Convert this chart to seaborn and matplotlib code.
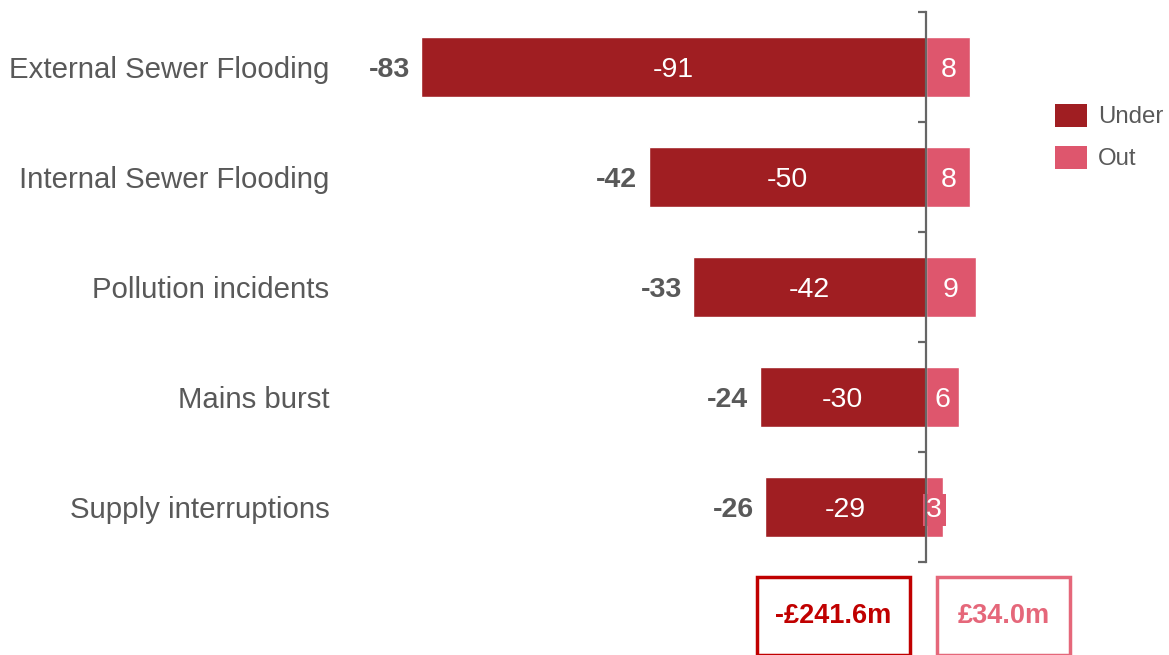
import matplotlib
matplotlib.use("Agg")
import matplotlib.pyplot as plt
import seaborn as sns
import pandas as pd
from matplotlib.patches import Patch, Rectangle

categories = ["External Sewer Flooding", "Internal Sewer Flooding", "Pollution incidents",
              "Mains burst", "Supply interruptions"]
under = [-91, -50, -42, -30, -29]
out = [8, 8, 9, 6, 3]
series_names = ["Under", "Out"]
total_labels = ["-£241.6m", "£34.0m"]

UNDER_C = "#A01E22"
OUT_C = "#DE566D"
GREY = "#595959"
AXIS_C = "#666666"

sns.set_theme(style="white")
plt.rcParams["font.family"] = ["Liberation Sans", "DejaVu Sans"]

df = pd.DataFrame({
    "category": categories * 2,
    "value": under + out,
    "series": [series_names[0]] * len(categories) + [series_names[1]] * len(categories),
})

W, H = 1169, 655
SCALE = 5.55
X0 = 926
fig = plt.figure(figsize=(W / 100, H / 100), dpi=100)
ax = fig.add_axes([360 / W, 1 - 562 / H, 680 / W, 550 / H])

sns.barplot(data=df, x="value", y="category", hue="series", order=categories,
            hue_order=series_names, palette=[UNDER_C, OUT_C], dodge=False,
            width=0.54, orient="h", ax=ax, legend=False, saturation=1)

ax.set_xlim(-(X0 - 360) / SCALE, (1040 - X0) / SCALE)
ax.set_ylim(len(categories) - 0.5, -0.5)
ax.set_xlabel("")
ax.set_ylabel("")
ax.set_xticks([])

for s in ["top", "right", "bottom"]:
    ax.spines[s].set_visible(False)
ax.spines["left"].set_position(("data", 0))
ax.spines["left"].set_bounds(-0.5, len(categories) - 0.5)
ax.spines["left"].set_color(AXIS_C)
ax.spines["left"].set_linewidth(1.6)
ax.spines["left"].set_zorder(5)
ax.set_yticks([i - 0.5 for i in range(len(categories) + 1)])
ax.set_yticklabels([])
ax.tick_params(axis="y", direction="out", length=6, width=1.6, color=AXIS_C, left=True)

# category labels
for i, c in enumerate(categories):
    ax.text(-0.045, i, c, transform=ax.get_yaxis_transform(), ha="right",
            va="center_baseline", fontsize=21.2, color=GREY)

# value labels
containers = ax.containers
t1 = ax.bar_label(containers[0], labels=[str(v) for v in under], label_type="center",
                  color="white", fontsize=20.5)
t2 = ax.bar_label(containers[1], labels=[str(v) for v in out], label_type="center",
                  color="white", fontsize=20.5,
                  bbox=dict(boxstyle="square,pad=0.12", facecolor=OUT_C, edgecolor="none"))
for t in list(t1) + list(t2):
    t.set_va("center_baseline")

# net labels
for i, (u, o) in enumerate(zip(under, out)):
    ax.annotate(str(u + o), xy=(u, i), xytext=(-8, 0), textcoords="offset points",
                ha="right", va="center_baseline", fontsize=20.5, fontweight="bold",
                color=GREY)

# legend
handles = [Patch(facecolor=UNDER_C, edgecolor="none"), Patch(facecolor=OUT_C, edgecolor="none")]
fig.legend(handles, series_names, loc="upper left", bbox_to_anchor=(1033 / W, 1 - 82 / H),
           frameon=False, fontsize=17.3, handlelength=1.35, handleheight=1.1,
           labelspacing=0.72, handletextpad=0.45, labelcolor=GREY)

# totals boxes
boxes = [(757, 910, "#C00000"), (937, 1070, "#E5677A")]
for (x0, x1, col), lab in zip(boxes, total_labels):
    fig.add_artist(Rectangle((x0 / W, 0), (x1 - x0) / W, (H - 577) / H,
                             transform=fig.transFigure, fill=False, edgecolor=col,
                             linewidth=2.5, clip_on=False))
    fig.text((x0 + x1) / 2 / W, 1 - 616 / H, lab, ha="center", va="center",
             fontsize=19.5, fontweight="bold", color=col)

fig.savefig("out.png", dpi=100)
